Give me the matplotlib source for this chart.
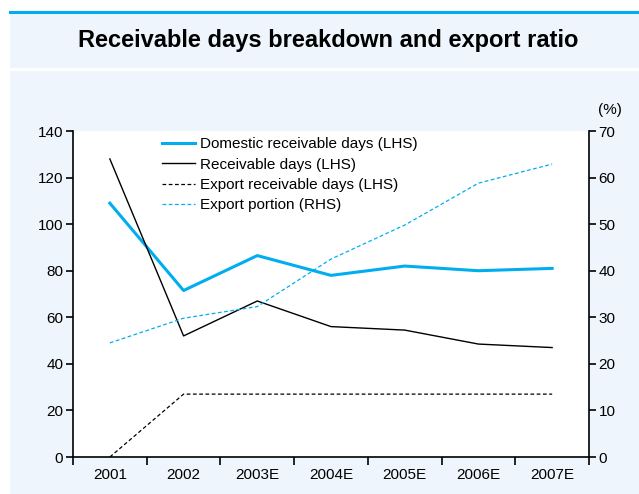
import numpy as np
import matplotlib
matplotlib.use("Agg")
import matplotlib.pyplot as plt
from matplotlib.patches import Rectangle
from matplotlib.lines import Line2D

plt.rcParams['font.family'] = ['Liberation Sans', 'DejaVu Sans']

years = ["2001", "2002", "2003E", "2004E", "2005E", "2006E", "2007E"]
domestic_days = [109, 71.5, 86.5, 78, 82, 80, 81]
receivable_days = [128, 52, 67, 56, 54.5, 48.5, 47]
export_days = [0, 27, 27, 27, 27, 27, 27]
export_portion = [24.5, 29.8, 32.3, 42.5, 49.8, 58.8, 62.9]

BG = "#eef5fc"
CYAN = "#00aeef"

fig = plt.figure(figsize=(6.39, 4.94), dpi=100)
fig.patch.set_facecolor("white")

# background panels
fig.add_artist(Rectangle((10/639, 1 - 68/494), 629/639, 55/494, transform=fig.transFigure,
                         facecolor=BG, edgecolor="none", zorder=0))
fig.add_artist(Rectangle((10/639, 0), 629/639, 1 - 71/494, transform=fig.transFigure,
                         facecolor=BG, edgecolor="none", zorder=0))
fig.add_artist(Line2D([10/639, 1], [1 - 12/494, 1 - 12/494], transform=fig.transFigure,
                      color=CYAN, lw=2.2))
fig.text(0.514, 1 - 40/494, "Receivable days breakdown and export ratio",
         ha="center", va="center", fontsize=17, fontweight="bold")

left, right, top, bottom = 73, 589, 131, 457
ax = fig.add_axes([left/639, 1 - bottom/494, (right-left)/639, (bottom-top)/494])
ax.set_facecolor("white")
ax2 = ax.twinx()

x = np.arange(len(years))
l1, = ax.plot(x, domestic_days, color=CYAN, lw=2.2)
l2, = ax.plot(x, receivable_days, color="black", lw=1.0)
l3, = ax.plot(x, export_days, color="black", lw=0.9, ls=(0, (3, 2)))
l4, = ax2.plot(x, export_portion, color=CYAN, lw=0.9, ls=(0, (3, 2)))

ax.set_xlim(-0.5, len(years) - 0.5)
ax.set_ylim(0, 140)
ax.set_yticks(np.arange(0, 141, 20))
ax2.set_ylim(0, 70)
ax2.set_yticks(np.arange(0, 71, 10))

ax.set_xticks(np.arange(-0.5, len(years), 1.0))
ax.set_xticklabels([])
ax.set_xticks(x, minor=True)
ax.set_xticklabels(years, minor=True)
ax.tick_params(axis="x", which="minor", length=0, pad=8, labelsize=11)
ax.tick_params(axis="x", which="major", direction="out", length=6, width=1.2)
ax.tick_params(axis="y", direction="out", length=5, width=1.2, labelsize=11, pad=2)
ax2.tick_params(axis="y", direction="out", length=5, width=1.2, labelsize=11, pad=2)

for a in (ax, ax2):
    a.spines["top"].set_visible(False)
    for s in ("left", "right", "bottom"):
        a.spines[s].set_linewidth(1.2)
ax.spines["right"].set_visible(False)
ax2.spines["left"].set_visible(False)
ax2.spines["bottom"].set_visible(False)

fig.text(598/639, 1 - 110/494, "(%)", ha="left", va="center", fontsize=11)

ax.legend([l1, l2, l3, l4],
          ["Domestic receivable days (LHS)", "Receivable days (LHS)",
           "Export receivable days (LHS)", "Export portion (RHS)"],
          loc="upper left", bbox_to_anchor=(0.16, 1.0), frameon=False,
          fontsize=11, handlelength=2.2, handletextpad=0.3, labelspacing=0.42,
          borderaxespad=0)

fig.savefig("out.png", dpi=100)
